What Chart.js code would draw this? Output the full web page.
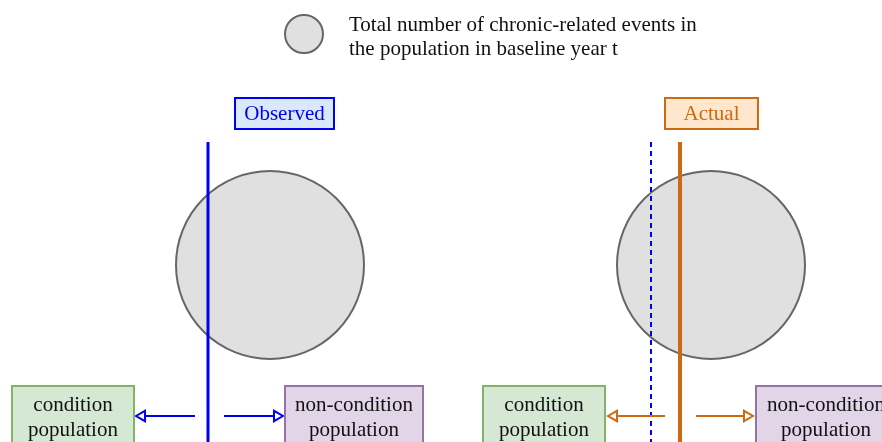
<!DOCTYPE html>
<html>
<head>
<meta charset="utf-8">
<script src="https://cdn.jsdelivr.net/npm/chart.js@4"></script>
<style>
  html, body { margin: 0; padding: 0; background: #fff; }
  canvas { display: block; }
</style>
</head>
<body>
<canvas id="diagram" width="882" height="442"></canvas>
<script>
// --------------------------------------------------
//  DATA (diagram units = page pixels, y grows down)
// --------------------------------------------------
const circleX = [270, 711, 304];
const circleY = [265, 265, 34];
const circleR = [94, 94, 19];

const legendLines = ['Total number of chronic-related events in', 'the population in baseline year t'];

const panelTitles = ['Observed', 'Actual'];
const titleBoxX = [235, 665];
const titleBoxW = [99, 93];

const splitX = [208, 680];        // solid split lines
const observedRefX = 651;        // dashed observed line in the right panel

const boxLabels = [['condition', 'population'], ['non-condition', 'population'],
                   ['condition', 'population'], ['non-condition', 'population']];
const boxX = [12, 285, 483, 756];
const boxW = [122, 138, 122, 140];

// arrows: [from, to] along y = arrowY (to = centre of the head)
const arrowFrom = [195, 224, 665, 696];
const arrowTo = [142, 277, 614, 747];
const arrowY = 416;

const BLUE = '#0000f0';
const ORANGE = '#cc6a10';
const FONT = '21px "Liberation Serif", "DejaVu Serif", serif';

// --------------------------------------------------
//  DATASETS
// --------------------------------------------------
const bubbleData = circleX.map((x, i) => ({ x: x, y: circleY[i], r: circleR[i] }));

function vline(x, color, width, dash) {
    return {
        type: 'line',
        data: [{ x: x, y: 142 }, { x: x, y: 442 }],
        borderColor: color,
        borderWidth: width,
        borderDash: dash || [],
        pointRadius: 0,
        order: 1
    };
}

function arrow(i) {
    const color = i < 2 ? BLUE : ORANGE;
    const left = arrowTo[i] < arrowFrom[i];
    return {
        type: 'line',
        data: [{ x: arrowFrom[i], y: arrowY }, { x: arrowTo[i], y: arrowY }],
        borderColor: color,
        borderWidth: 2,
        pointRadius: [0, 6],
        pointStyle: 'triangle',
        rotation: left ? -90 : 90,
        pointBackgroundColor: '#fff',
        pointBorderColor: color,
        pointBorderWidth: 2,
        order: 0
    };
}

const datasets = [
    {
        type: 'bubble',
        data: bubbleData,
        backgroundColor: '#e0e0e0',
        borderColor: '#666',
        borderWidth: 2,
        order: 3
    },
    vline(splitX[0], BLUE, 3),
    vline(observedRefX, BLUE, 2, [5, 4]),
    vline(splitX[1], ORANGE, 4)
];
arrowFrom.forEach((_, i) => datasets.push(arrow(i)));

// --------------------------------------------------
//  BOXES + TEXT (drawn through the chart scales)
// --------------------------------------------------
const boxesPlugin = {
    id: 'boxes',
    afterDatasetsDraw(chart) {
        const ctx = chart.ctx;
        const xs = chart.scales.x, ys = chart.scales.y;
        const px = v => xs.getPixelForValue(v);
        const py = v => ys.getPixelForValue(v);

        ctx.save();
        ctx.textAlign = 'center';
        ctx.textBaseline = 'middle';
        ctx.font = FONT;

        // panel titles
        const titleFill = ['#dae8fc', '#ffe6cc'];
        const titleColor = [BLUE, ORANGE];
        panelTitles.forEach((t, i) => {
            const x0 = px(titleBoxX[i]), x1 = px(titleBoxX[i] + titleBoxW[i]);
            const y0 = py(98), y1 = py(129);
            ctx.fillStyle = titleFill[i];
            ctx.fillRect(x0, y0, x1 - x0, y1 - y0);
            ctx.strokeStyle = titleColor[i];
            ctx.lineWidth = 2;
            ctx.strokeRect(x0, y0, x1 - x0, y1 - y0);
            ctx.fillStyle = titleColor[i];
            ctx.fillText(t, (x0 + x1) / 2, (y0 + y1) / 2 + 1);
        });

        // population boxes
        boxLabels.forEach((lines, i) => {
            const green = i % 2 === 0;
            const x0 = px(boxX[i]), x1 = px(boxX[i] + boxW[i]);
            const y0 = py(386), y1 = py(460);
            ctx.fillStyle = green ? '#d5e8d4' : '#e1d5e7';
            ctx.fillRect(x0, y0, x1 - x0, y1 - y0);
            ctx.strokeStyle = green ? '#82b366' : '#9673a6';
            ctx.lineWidth = 2;
            ctx.strokeRect(x0, y0, x1 - x0, y1 - y0);
            ctx.fillStyle = '#111';
            lines.forEach((l, j) => ctx.fillText(l, (x0 + x1) / 2, py(405 + j * 25)));
        });

        // legend text
        ctx.textAlign = 'left';
        ctx.fillStyle = '#111';
        legendLines.forEach((l, j) => ctx.fillText(l, px(349), py(25 + j * 24)));
        ctx.restore();
    }
};

// --------------------------------------------------
//  CHART
// --------------------------------------------------
new Chart(document.getElementById('diagram').getContext('2d'), {
    type: 'scatter',
    data: { datasets: datasets },
    options: {
        responsive: false,
        animation: false,
        layout: { padding: 0, autoPadding: false },
        plugins: { legend: { display: false }, tooltip: { enabled: false } },
        scales: {
            x: { type: 'linear', min: 0, max: 882, display: false },
            y: { type: 'linear', min: 0, max: 442, reverse: true, display: false }
        }
    },
    plugins: [boxesPlugin]
});
</script>
</body>
</html>
